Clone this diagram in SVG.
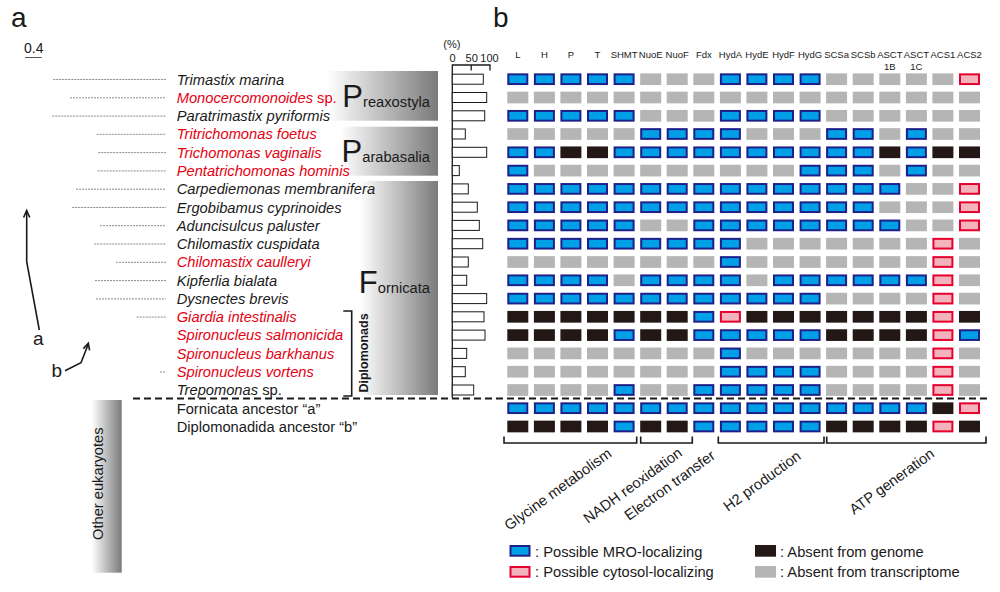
<svg xmlns="http://www.w3.org/2000/svg" width="1000" height="592" viewBox="0 0 1000 592">
<style>
text{font-family:"Liberation Sans",Arial,sans-serif;fill:#1a1a1a}
.sp{font-size:14.7px;font-style:italic}
.red{fill:#e60012}
.up{font-style:normal}
.hd{font-size:9.5px;text-anchor:middle}
.tl{stroke:#8a8a8a;stroke-width:1;stroke-dasharray:2 1;fill:none}
.bar{fill:#fff;stroke:#1a1a1a;stroke-width:1}
.ln{stroke:#1a1a1a;stroke-width:1.6;fill:none}
.cat{font-size:14.7px}
.lg{font-size:14.7px}
</style>
<defs>
<linearGradient id="gr" x1="0" x2="1" y1="0" y2="0"><stop offset="0" stop-color="#ffffff"/><stop offset="1" stop-color="#7a7a7a"/></linearGradient>
<g id="B"><rect x="1" y="1" width="19" height="9.7" fill="#00a0e9" stroke="#1d2088" stroke-width="2"/></g>
<g id="R"><rect x="1" y="1" width="19" height="9.7" fill="#f2b3bd" stroke="#e5002d" stroke-width="2"/></g>
<g id="K"><rect width="21" height="11.7" fill="#231815"/></g>
<g id="G"><rect width="21" height="11.7" fill="#b5b5b5"/></g>
</defs>

<text x="11" y="26.7" font-size="28">a</text>
<text x="493" y="26.7" font-size="28">b</text>
<text x="24" y="53.3" font-size="14">0.4</text>
<path d="M25,57.5H41.7" stroke="#555" stroke-width="1"/>

<g id="clades">
<rect x="328" y="71" width="110" height="49.7" fill="url(#gr)"/>
<rect x="340" y="126.7" width="98" height="49" fill="url(#gr)"/>
<rect x="360" y="181" width="78" height="214" fill="url(#gr)"/>
<text x="430" y="106.7" text-anchor="end" font-size="14.7"><tspan font-size="31">P</tspan>reaxostyla</text>
<text x="430" y="161.7" text-anchor="end" font-size="14.7"><tspan font-size="31">P</tspan>arabasalia</text>
<text x="430" y="293.3" text-anchor="end" font-size="14.7"><tspan font-size="31">F</tspan>ornicata</text>
<path class="ln" d="M343.3,311H351.7V396H343.3"/>
<text transform="translate(367.5,353) rotate(-90)" text-anchor="middle" font-size="12.5" font-weight="bold">Diplomonads</text>
<rect x="91.7" y="400" width="30" height="172.7" fill="url(#gr)"/>
<text transform="translate(102.5,483.7) rotate(-90)" text-anchor="middle" font-size="14.7">Other eukaryotes</text>
</g>

<g id="bar-axis">
<text x="443.3" y="48.3" font-size="11">(%)</text>
<text x="452.5" y="61.5" font-size="11" text-anchor="middle">0</text>
<text x="471.7" y="61.5" font-size="11" text-anchor="middle">50</text>
<text x="489.5" y="61.5" font-size="11" text-anchor="middle">100</text>
<path d="M452.3,398V65H490V70.5M471.2,65V70.5" stroke="#1a1a1a" stroke-width="1.3" fill="none"/>
</g>

<g id="headers">
<text class="hd" x="517.8" y="58">L</text>
<text class="hd" x="544.4" y="58">H</text>
<text class="hd" x="570.9" y="58">P</text>
<text class="hd" x="597.5" y="58">T</text>
<text class="hd" x="624.1" y="58">SHMT</text>
<text class="hd" x="650.7" y="58">NuoE</text>
<text class="hd" x="677.2" y="58">NuoF</text>
<text class="hd" x="703.8" y="58">Fdx</text>
<text class="hd" x="730.4" y="58">HydA</text>
<text class="hd" x="756.9" y="58">HydE</text>
<text class="hd" x="783.5" y="58">HydF</text>
<text class="hd" x="810.1" y="58">HydG</text>
<text class="hd" x="836.6" y="58">SCSa</text>
<text class="hd" x="863.2" y="58">SCSb</text>
<text class="hd" x="889.8" y="58">ASCT</text>
<text class="hd" x="889.8" y="70">1B</text>
<text class="hd" x="916.4" y="58">ASCT</text>
<text class="hd" x="916.4" y="70">1C</text>
<text class="hd" x="942.9" y="58">ACS1</text>
<text class="hd" x="969.5" y="58">ACS2</text>
</g>

<g id="row-trimastix">
<path class="tl" d="M53.3,79.5H166"/>
<text class="sp" x="176.7" y="84.5">Trimastix marina</text>
<rect class="bar" x="452.3" y="74.2" width="31" height="10"/>
<g transform="translate(0,73.35)"><use href="#B" x="507.3"/><use href="#B" x="533.9"/><use href="#B" x="560.4"/><use href="#B" x="587"/><use href="#B" x="613.6"/><use href="#G" x="640.2"/><use href="#G" x="666.7"/><use href="#G" x="693.3"/><use href="#B" x="719.9"/><use href="#B" x="746.4"/><use href="#B" x="773"/><use href="#B" x="799.6"/><use href="#G" x="826.1"/><use href="#G" x="852.7"/><use href="#G" x="879.3"/><use href="#G" x="905.9"/><use href="#G" x="932.4"/><use href="#R" x="959"/></g>
</g>

<g id="row-monocercomonoides">
<path class="tl" d="M70,97.8H166"/>
<text class="sp red" x="176.7" y="102.8">Monocercomonoides <tspan class="up">sp.</tspan></text>
<rect class="bar" x="452.3" y="92.5" width="34.4" height="10"/>
<g transform="translate(0,91.65)"><use href="#G" x="507.3"/><use href="#G" x="533.9"/><use href="#G" x="560.4"/><use href="#G" x="587"/><use href="#G" x="613.6"/><use href="#G" x="640.2"/><use href="#G" x="666.7"/><use href="#G" x="693.3"/><use href="#G" x="719.9"/><use href="#G" x="746.4"/><use href="#G" x="773"/><use href="#G" x="799.6"/><use href="#G" x="826.1"/><use href="#G" x="852.7"/><use href="#G" x="879.3"/><use href="#G" x="905.9"/><use href="#G" x="932.4"/><use href="#G" x="959"/></g>
</g>

<g id="row-paratrimastix">
<path class="tl" d="M52.3,116.1H166"/>
<text class="sp" x="176.7" y="121.1">Paratrimastix pyriformis</text>
<rect class="bar" x="452.3" y="110.8" width="32.4" height="10"/>
<g transform="translate(0,109.95)"><use href="#B" x="507.3"/><use href="#B" x="533.9"/><use href="#B" x="560.4"/><use href="#B" x="587"/><use href="#B" x="613.6"/><use href="#G" x="640.2"/><use href="#G" x="666.7"/><use href="#G" x="693.3"/><use href="#B" x="719.9"/><use href="#B" x="746.4"/><use href="#B" x="773"/><use href="#B" x="799.6"/><use href="#G" x="826.1"/><use href="#G" x="852.7"/><use href="#G" x="879.3"/><use href="#G" x="905.9"/><use href="#G" x="932.4"/><use href="#G" x="959"/></g>
</g>

<g id="row-tritrichomonas">
<path class="tl" d="M96.7,134.3H166"/>
<text class="sp red" x="176.7" y="139.3">Tritrichomonas foetus</text>
<rect class="bar" x="452.3" y="129" width="13" height="10"/>
<g transform="translate(0,128.15)"><use href="#G" x="507.3"/><use href="#G" x="533.9"/><use href="#G" x="560.4"/><use href="#G" x="587"/><use href="#G" x="613.6"/><use href="#B" x="640.2"/><use href="#B" x="666.7"/><use href="#B" x="693.3"/><use href="#B" x="719.9"/><use href="#G" x="746.4"/><use href="#G" x="773"/><use href="#G" x="799.6"/><use href="#B" x="826.1"/><use href="#B" x="852.7"/><use href="#G" x="879.3"/><use href="#B" x="905.9"/><use href="#G" x="932.4"/><use href="#G" x="959"/></g>
</g>

<g id="row-trichomonas">
<path class="tl" d="M98.3,152.6H166"/>
<text class="sp red" x="176.7" y="157.6">Trichomonas vaginalis</text>
<rect class="bar" x="452.3" y="147.3" width="34.4" height="10"/>
<g transform="translate(0,146.45)"><use href="#B" x="507.3"/><use href="#B" x="533.9"/><use href="#K" x="560.4"/><use href="#K" x="587"/><use href="#B" x="613.6"/><use href="#B" x="640.2"/><use href="#B" x="666.7"/><use href="#B" x="693.3"/><use href="#B" x="719.9"/><use href="#B" x="746.4"/><use href="#B" x="773"/><use href="#B" x="799.6"/><use href="#B" x="826.1"/><use href="#B" x="852.7"/><use href="#K" x="879.3"/><use href="#B" x="905.9"/><use href="#K" x="932.4"/><use href="#K" x="959"/></g>
</g>

<g id="row-pentatrichomonas">
<path class="tl" d="M97.7,170.9H166"/>
<text class="sp red" x="176.7" y="175.9">Pentatrichomonas hominis</text>
<rect class="bar" x="452.3" y="165.6" width="7" height="10"/>
<g transform="translate(0,164.75)"><use href="#B" x="507.3"/><use href="#G" x="533.9"/><use href="#G" x="560.4"/><use href="#G" x="587"/><use href="#G" x="613.6"/><use href="#G" x="640.2"/><use href="#G" x="666.7"/><use href="#G" x="693.3"/><use href="#G" x="719.9"/><use href="#G" x="746.4"/><use href="#G" x="773"/><use href="#B" x="799.6"/><use href="#B" x="826.1"/><use href="#B" x="852.7"/><use href="#G" x="879.3"/><use href="#B" x="905.9"/><use href="#G" x="932.4"/><use href="#G" x="959"/></g>
</g>

<g id="row-carpediemonas">
<path class="tl" d="M76,189.2H166"/>
<text class="sp" x="176.7" y="194.2">Carpediemonas membranifera</text>
<rect class="bar" x="452.3" y="183.9" width="16" height="10"/>
<g transform="translate(0,183.05)"><use href="#B" x="507.3"/><use href="#B" x="533.9"/><use href="#B" x="560.4"/><use href="#B" x="587"/><use href="#B" x="613.6"/><use href="#B" x="640.2"/><use href="#B" x="666.7"/><use href="#B" x="693.3"/><use href="#B" x="719.9"/><use href="#B" x="746.4"/><use href="#B" x="773"/><use href="#B" x="799.6"/><use href="#B" x="826.1"/><use href="#B" x="852.7"/><use href="#B" x="879.3"/><use href="#G" x="905.9"/><use href="#G" x="932.4"/><use href="#R" x="959"/></g>
</g>

<g id="row-ergobibamus">
<path class="tl" d="M72.3,207.5H166"/>
<text class="sp" x="176.7" y="212.5">Ergobibamus cyprinoides</text>
<rect class="bar" x="452.3" y="202.2" width="25" height="10"/>
<g transform="translate(0,201.35)"><use href="#B" x="507.3"/><use href="#B" x="533.9"/><use href="#B" x="560.4"/><use href="#B" x="587"/><use href="#B" x="613.6"/><use href="#B" x="640.2"/><use href="#B" x="666.7"/><use href="#B" x="693.3"/><use href="#B" x="719.9"/><use href="#B" x="746.4"/><use href="#B" x="773"/><use href="#B" x="799.6"/><use href="#B" x="826.1"/><use href="#B" x="852.7"/><use href="#G" x="879.3"/><use href="#G" x="905.9"/><use href="#G" x="932.4"/><use href="#R" x="959"/></g>
</g>

<g id="row-aduncisulcus">
<path class="tl" d="M100,225.7H166"/>
<text class="sp" x="176.7" y="230.7">Aduncisulcus paluster</text>
<rect class="bar" x="452.3" y="220.4" width="27" height="10"/>
<g transform="translate(0,219.55)"><use href="#B" x="507.3"/><use href="#B" x="533.9"/><use href="#B" x="560.4"/><use href="#B" x="587"/><use href="#B" x="613.6"/><use href="#G" x="640.2"/><use href="#G" x="666.7"/><use href="#B" x="693.3"/><use href="#B" x="719.9"/><use href="#B" x="746.4"/><use href="#B" x="773"/><use href="#B" x="799.6"/><use href="#B" x="826.1"/><use href="#B" x="852.7"/><use href="#B" x="879.3"/><use href="#G" x="905.9"/><use href="#G" x="932.4"/><use href="#R" x="959"/></g>
</g>

<g id="row-chilomastix-cuspidata">
<path class="tl" d="M94.3,244H166"/>
<text class="sp" x="176.7" y="249">Chilomastix cuspidata</text>
<rect class="bar" x="452.3" y="238.7" width="30.4" height="10"/>
<g transform="translate(0,237.85)"><use href="#B" x="507.3"/><use href="#B" x="533.9"/><use href="#B" x="560.4"/><use href="#B" x="587"/><use href="#B" x="613.6"/><use href="#B" x="640.2"/><use href="#B" x="666.7"/><use href="#B" x="693.3"/><use href="#B" x="719.9"/><use href="#G" x="746.4"/><use href="#G" x="773"/><use href="#G" x="799.6"/><use href="#G" x="826.1"/><use href="#G" x="852.7"/><use href="#G" x="879.3"/><use href="#G" x="905.9"/><use href="#R" x="932.4"/><use href="#G" x="959"/></g>
</g>

<g id="row-chilomastix-caulleryi">
<path class="tl" d="M116,262.3H166"/>
<text class="sp red" x="176.7" y="267.3">Chilomastix caulleryi</text>
<rect class="bar" x="452.3" y="257" width="16" height="10"/>
<g transform="translate(0,256.15)"><use href="#G" x="507.3"/><use href="#G" x="533.9"/><use href="#G" x="560.4"/><use href="#G" x="587"/><use href="#G" x="613.6"/><use href="#G" x="640.2"/><use href="#G" x="666.7"/><use href="#G" x="693.3"/><use href="#B" x="719.9"/><use href="#G" x="746.4"/><use href="#G" x="773"/><use href="#G" x="799.6"/><use href="#G" x="826.1"/><use href="#G" x="852.7"/><use href="#G" x="879.3"/><use href="#G" x="905.9"/><use href="#R" x="932.4"/><use href="#G" x="959"/></g>
</g>

<g id="row-kipferlia">
<path class="tl" d="M95,280.6H166"/>
<text class="sp" x="176.7" y="285.6">Kipferlia bialata</text>
<rect class="bar" x="452.3" y="275.3" width="14.4" height="10"/>
<g transform="translate(0,274.45)"><use href="#B" x="507.3"/><use href="#B" x="533.9"/><use href="#B" x="560.4"/><use href="#B" x="587"/><use href="#G" x="613.6"/><use href="#B" x="640.2"/><use href="#B" x="666.7"/><use href="#B" x="693.3"/><use href="#B" x="719.9"/><use href="#G" x="746.4"/><use href="#B" x="773"/><use href="#B" x="799.6"/><use href="#B" x="826.1"/><use href="#B" x="852.7"/><use href="#B" x="879.3"/><use href="#B" x="905.9"/><use href="#R" x="932.4"/><use href="#G" x="959"/></g>
</g>

<g id="row-dysnectes">
<path class="tl" d="M96,298.9H166"/>
<text class="sp" x="176.7" y="303.9">Dysnectes brevis</text>
<rect class="bar" x="452.3" y="293.6" width="34.4" height="10"/>
<g transform="translate(0,292.75)"><use href="#B" x="507.3"/><use href="#B" x="533.9"/><use href="#B" x="560.4"/><use href="#B" x="587"/><use href="#B" x="613.6"/><use href="#B" x="640.2"/><use href="#B" x="666.7"/><use href="#B" x="693.3"/><use href="#B" x="719.9"/><use href="#B" x="746.4"/><use href="#B" x="773"/><use href="#B" x="799.6"/><use href="#G" x="826.1"/><use href="#G" x="852.7"/><use href="#G" x="879.3"/><use href="#G" x="905.9"/><use href="#R" x="932.4"/><use href="#G" x="959"/></g>
</g>

<g id="row-giardia">
<path class="tl" d="M136.7,317.1H166"/>
<text class="sp red" x="176.7" y="322.1">Giardia intestinalis</text>
<rect class="bar" x="452.3" y="311.8" width="31.7" height="10"/>
<g transform="translate(0,310.95)"><use href="#K" x="507.3"/><use href="#K" x="533.9"/><use href="#K" x="560.4"/><use href="#K" x="587"/><use href="#K" x="613.6"/><use href="#K" x="640.2"/><use href="#K" x="666.7"/><use href="#B" x="693.3"/><use href="#R" x="719.9"/><use href="#K" x="746.4"/><use href="#K" x="773"/><use href="#K" x="799.6"/><use href="#K" x="826.1"/><use href="#K" x="852.7"/><use href="#K" x="879.3"/><use href="#K" x="905.9"/><use href="#R" x="932.4"/><use href="#K" x="959"/></g>
</g>

<g id="row-s-salmonicida">
<text class="sp red" x="176.7" y="340.4">Spironucleus salmonicida</text>
<rect class="bar" x="452.3" y="330.1" width="32.7" height="10"/>
<g transform="translate(0,329.25)"><use href="#K" x="507.3"/><use href="#K" x="533.9"/><use href="#K" x="560.4"/><use href="#K" x="587"/><use href="#B" x="613.6"/><use href="#K" x="640.2"/><use href="#K" x="666.7"/><use href="#B" x="693.3"/><use href="#B" x="719.9"/><use href="#B" x="746.4"/><use href="#B" x="773"/><use href="#B" x="799.6"/><use href="#K" x="826.1"/><use href="#K" x="852.7"/><use href="#K" x="879.3"/><use href="#K" x="905.9"/><use href="#R" x="932.4"/><use href="#B" x="959"/></g>
</g>

<g id="row-s-barkhanus">
<text class="sp red" x="176.7" y="358.7">Spironucleus barkhanus</text>
<rect class="bar" x="452.3" y="348.4" width="14.4" height="10"/>
<g transform="translate(0,347.55)"><use href="#G" x="507.3"/><use href="#G" x="533.9"/><use href="#G" x="560.4"/><use href="#G" x="587"/><use href="#G" x="613.6"/><use href="#G" x="640.2"/><use href="#G" x="666.7"/><use href="#G" x="693.3"/><use href="#B" x="719.9"/><use href="#G" x="746.4"/><use href="#G" x="773"/><use href="#G" x="799.6"/><use href="#G" x="826.1"/><use href="#G" x="852.7"/><use href="#G" x="879.3"/><use href="#G" x="905.9"/><use href="#R" x="932.4"/><use href="#G" x="959"/></g>
</g>

<g id="row-s-vortens">
<path class="tl" d="M160,372H166"/>
<text class="sp red" x="176.7" y="377">Spironucleus vortens</text>
<rect class="bar" x="452.3" y="366.7" width="13" height="10"/>
<g transform="translate(0,365.85)"><use href="#G" x="507.3"/><use href="#G" x="533.9"/><use href="#G" x="560.4"/><use href="#G" x="587"/><use href="#G" x="613.6"/><use href="#G" x="640.2"/><use href="#G" x="666.7"/><use href="#G" x="693.3"/><use href="#B" x="719.9"/><use href="#B" x="746.4"/><use href="#B" x="773"/><use href="#B" x="799.6"/><use href="#G" x="826.1"/><use href="#G" x="852.7"/><use href="#G" x="879.3"/><use href="#G" x="905.9"/><use href="#R" x="932.4"/><use href="#G" x="959"/></g>
</g>

<g id="row-trepomonas">
<text class="sp" x="176.7" y="395.3">Trepomonas <tspan class="up">sp.</tspan></text>
<rect class="bar" x="452.3" y="385" width="21.4" height="10"/>
<g transform="translate(0,384.15)"><use href="#G" x="507.3"/><use href="#G" x="533.9"/><use href="#G" x="560.4"/><use href="#G" x="587"/><use href="#B" x="613.6"/><use href="#G" x="640.2"/><use href="#G" x="666.7"/><use href="#B" x="693.3"/><use href="#B" x="719.9"/><use href="#B" x="746.4"/><use href="#B" x="773"/><use href="#B" x="799.6"/><use href="#G" x="826.1"/><use href="#G" x="852.7"/><use href="#G" x="879.3"/><use href="#G" x="905.9"/><use href="#R" x="932.4"/><use href="#G" x="959"/></g>
</g>

<g id="row-ancestor-a">
<text x="176.7" y="413.5" font-size="14.7">Fornicata ancestor “a”</text>
<g transform="translate(0,402.35)"><use href="#B" x="507.3"/><use href="#B" x="533.9"/><use href="#B" x="560.4"/><use href="#B" x="587"/><use href="#B" x="613.6"/><use href="#B" x="640.2"/><use href="#B" x="666.7"/><use href="#B" x="693.3"/><use href="#B" x="719.9"/><use href="#B" x="746.4"/><use href="#B" x="773"/><use href="#B" x="799.6"/><use href="#B" x="826.1"/><use href="#B" x="852.7"/><use href="#B" x="879.3"/><use href="#B" x="905.9"/><use href="#K" x="932.4"/><use href="#R" x="959"/></g>
</g>

<g id="row-ancestor-b">
<text x="176.7" y="431.8" font-size="14.7">Diplomonadida ancestor “b”</text>
<g transform="translate(0,420.65)"><use href="#K" x="507.3"/><use href="#K" x="533.9"/><use href="#K" x="560.4"/><use href="#K" x="587"/><use href="#B" x="613.6"/><use href="#K" x="640.2"/><use href="#K" x="666.7"/><use href="#B" x="693.3"/><use href="#B" x="719.9"/><use href="#B" x="746.4"/><use href="#B" x="773"/><use href="#B" x="799.6"/><use href="#K" x="826.1"/><use href="#K" x="852.7"/><use href="#K" x="879.3"/><use href="#K" x="905.9"/><use href="#R" x="932.4"/><use href="#K" x="959"/></g>
</g>

<g id="connectors">
<path d="M133,398.5H987" stroke="#1a1a1a" stroke-width="2" stroke-dasharray="7 4" fill="none"/>
<path class="ln" d="M39.3,330L26.7,261.7V211"/>
<path class="ln" d="M23.6,217.5L26.7,210.5L29.8,217.5"/>
<path class="ln" d="M65,370.7L81,362.7L88.3,344"/>
<path class="ln" d="M83.4,348.6L88.3,343.3L89.6,350.4"/>
<path class="ln" d="M504,436.5V443H636.7V436.5M640.7,436.5V443H692.3V436.5M718.3,436.5V443H824V436.5M826.7,436.5V443H986V436.5"/>
</g>
<text x="33" y="345" font-size="19">a</text>
<text x="51.5" y="377" font-size="19">b</text>

<g id="categories">
<text class="cat" transform="translate(509,531) rotate(-36)">Glycine metabolism</text>
<text class="cat" transform="translate(588,524) rotate(-36)">NADH reoxidation</text>
<text class="cat" transform="translate(629,521) rotate(-36)">Electron transfer</text>
<text class="cat" transform="translate(728,512) rotate(-36)">H2 production</text>
<text class="cat" transform="translate(854,515) rotate(-36)">ATP generation</text>
</g>

<g id="legend">
<use href="#B" x="509.5" y="545"/>
<text class="lg" x="535" y="556.5">: Possible MRO-localizing</text>
<use href="#R" x="509.5" y="566"/>
<text class="lg" x="535" y="577">: Possible cytosol-localizing</text>
<use href="#K" x="755" y="545"/>
<text class="lg" x="780" y="556.5">: Absent from genome</text>
<use href="#G" x="755" y="566"/>
<text class="lg" x="780" y="577">: Absent from transcriptome</text>
</g>
</svg>
